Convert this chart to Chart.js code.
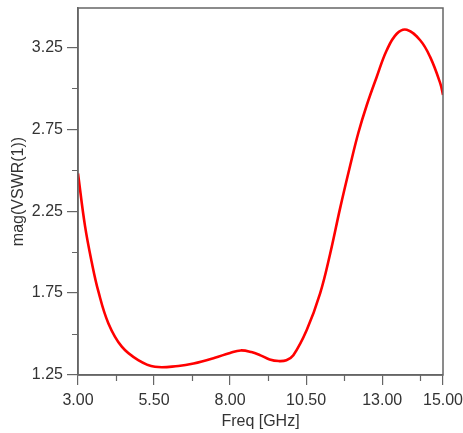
<!DOCTYPE html>
<html lang="en">
<head>
  <meta charset="UTF-8" />
  <title>VSWR</title>
  <script src="https://cdn.jsdelivr.net/npm/chart.js"></script>
  <style>
    html, body { margin: 0; padding: 0; background: #fff; }
    #wrap { width: 463px; height: 433px; }
  </style>
</head>
<body>
  <div id="wrap"><canvas id="vswrChart" width="463" height="433"></canvas></div>
  <script>
    // values
    const freqGHz = [3.0, 3.23, 3.45, 3.67, 4.0, 4.44, 4.98, 5.53, 6.3, 6.8, 7.5, 8.0, 8.35, 8.7, 9.0, 9.3, 9.6, 9.85,
                     10.08, 10.52, 10.96, 11.29, 11.62, 11.95, 12.22, 12.49, 12.82, 13.15, 13.48, 13.81, 14.25, 14.58, 14.91, 15.0];
    const vswr = [2.48, 2.16, 1.94, 1.76, 1.565, 1.423, 1.341, 1.30, 1.305, 1.32, 1.355, 1.385, 1.40, 1.39, 1.37, 1.345, 1.335, 1.34,
                  1.37, 1.524, 1.748, 1.99, 2.27, 2.53, 2.73, 2.895, 3.069, 3.232, 3.333, 3.357, 3.293, 3.19, 3.03, 2.96];
    const xTicks = [3.00, 5.50, 8.00, 10.50, 13.00, 15.00];
    const xMinor = [4.25, 6.75, 9.25, 11.75, 14.25];
    const yTicks = [1.25, 1.75, 2.25, 2.75, 3.25];
    const yMinor = [1.50, 2.00, 2.50, 3.00];

    const axisGray = "#666";
    const textColor = "#333";
    const font = { family: "'Liberation Sans', Arial, sans-serif", size: 16 };

    const framePlugin = {
      id: "frame",
      afterDraw(chart) {
        const { ctx, chartArea: a, scales } = chart;
        ctx.save();
        ctx.strokeStyle = axisGray;
        ctx.lineWidth = 1.5;
        ctx.strokeRect(a.left, a.top, a.right - a.left, a.bottom - a.top);
        ctx.beginPath();
        xMinor.forEach(v => {
          const px = Math.round(scales.x.getPixelForValue(v)) + 0.5;
          ctx.moveTo(px, a.bottom); ctx.lineTo(px, a.bottom + 6);
        });
        yMinor.forEach(v => {
          const py = Math.round(scales.y.getPixelForValue(v)) + 0.5;
          ctx.moveTo(a.left, py); ctx.lineTo(a.left - 6, py);
        });
        ctx.lineWidth = 1.2;
        ctx.stroke();
        ctx.restore();
      }
    };

    new Chart(document.getElementById("vswrChart"), {
      type: "line",
      data: {
        datasets: [{
          data: freqGHz.map((f, i) => ({ x: f, y: vswr[i] })),
          borderColor: "#ff0000",
          borderWidth: 2.6,
          pointRadius: 0,
          tension: 0.4,
          fill: false
        }]
      },
      options: {
        responsive: false,
        animation: false,
        layout: { padding: { left: 0, top: 8, right: 20, bottom: 0 } },
        plugins: { legend: { display: false }, tooltip: { enabled: false } },
        scales: {
          x: {
            type: "linear",
            min: 3, max: 15,
            afterBuildTicks: s => { s.ticks = xTicks.map(v => ({ value: v })); },
            afterFit: s => { s.height = 58; s.paddingLeft = 0; s.paddingRight = 0; },
            ticks: { callback: v => Number(v).toFixed(2), color: textColor, font, padding: 6, maxRotation: 0, autoSkip: false },
            grid: { drawOnChartArea: false, tickLength: 10, color: axisGray, lineWidth: 1.2 },
            border: { color: axisGray, width: 1.5 },
            title: { display: true, text: "Freq [GHz]", color: textColor, font, padding: { top: 0, bottom: 2 } }
          },
          y: {
            min: 1.25, max: 3.49,
            afterBuildTicks: s => { s.ticks = yTicks.map(v => ({ value: v })); },
            afterFit: s => { s.width = 78; s.paddingTop = 0; s.paddingBottom = 0; },
            ticks: { callback: v => Number(v).toFixed(2), color: textColor, font, padding: 4, autoSkip: false },
            grid: { drawOnChartArea: false, tickLength: 11, color: axisGray, lineWidth: 1.2 },
            border: { color: axisGray, width: 1.5 },
            title: { display: true, text: "mag(VSWR(1))", color: textColor, font, padding: { top: 9, bottom: 0 } }
          }
        }
      },
      plugins: [framePlugin]
    });
  </script>
</body>
</html>
